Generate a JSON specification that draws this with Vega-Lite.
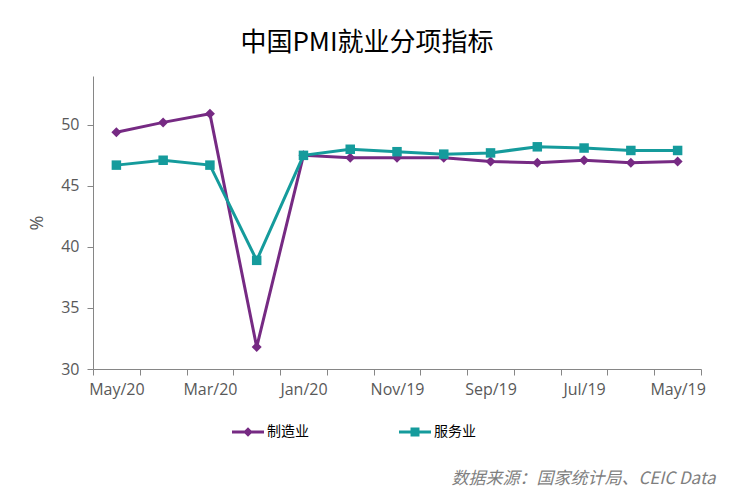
{
  "$schema": "https://vega.github.io/schema/vega-lite/v6.json",
  "width": 608,
  "height": 293,
  "autosize": "none",
  "padding": {"left": 93, "top": 76, "right": 32, "bottom": 130},
  "background": "white",
  "title": {"text": "中国PMI就业分项指标", "font": "Noto Sans CJK SC", "fontSize": 26, "fontWeight": "normal", "color": "#000000", "anchor": "middle", "dx": -30, "offset": 20},
  "data": {"values": [
    {"month": "May/20", "series": "制造业", "value": 49.4},
    {"month": "Apr/20", "series": "制造业", "value": 50.2},
    {"month": "Mar/20", "series": "制造业", "value": 50.9},
    {"month": "Feb/20", "series": "制造业", "value": 31.8},
    {"month": "Jan/20", "series": "制造业", "value": 47.5},
    {"month": "Dec/19", "series": "制造业", "value": 47.3},
    {"month": "Nov/19", "series": "制造业", "value": 47.3},
    {"month": "Oct/19", "series": "制造业", "value": 47.3},
    {"month": "Sep/19", "series": "制造业", "value": 47.0},
    {"month": "Aug/19", "series": "制造业", "value": 46.9},
    {"month": "Jul/19", "series": "制造业", "value": 47.1},
    {"month": "Jun/19", "series": "制造业", "value": 46.9},
    {"month": "May/19", "series": "制造业", "value": 47.0},
    {"month": "May/20", "series": "服务业", "value": 46.7},
    {"month": "Apr/20", "series": "服务业", "value": 47.1},
    {"month": "Mar/20", "series": "服务业", "value": 46.7},
    {"month": "Feb/20", "series": "服务业", "value": 38.9},
    {"month": "Jan/20", "series": "服务业", "value": 47.5},
    {"month": "Dec/19", "series": "服务业", "value": 48.0},
    {"month": "Nov/19", "series": "服务业", "value": 47.8},
    {"month": "Oct/19", "series": "服务业", "value": 47.6},
    {"month": "Sep/19", "series": "服务业", "value": 47.7},
    {"month": "Aug/19", "series": "服务业", "value": 48.2},
    {"month": "Jul/19", "series": "服务业", "value": 48.1},
    {"month": "Jun/19", "series": "服务业", "value": 47.9},
    {"month": "May/19", "series": "服务业", "value": 47.9}
  ]},
  "encoding": {
    "x": {
      "field": "month", "type": "ordinal", "sort": null, "bandPosition": 0.5,
      "scale": {"type": "band", "paddingInner": 0, "paddingOuter": 0},
      "axis": {
        "orient": "bottom",
        "tickBand": "extent",
        "labelExpr": "indexof(['May/20','Mar/20','Jan/20','Nov/19','Sep/19','Jul/19','May/19'], datum.value) >= 0 ? datum.label : ''",
        "labelAngle": 0, "labelOverlap": false, "grid": false,
        "domainColor": "#868686", "tickColor": "#868686", "tickSize": 6,
        "labelFont": "Open Sans", "labelFontSize": 16, "labelColor": "#595959", "labelPadding": 6,
        "title": "数据来源：国家统计局、CEIC Data",
        "titleFont": "Noto Sans CJK SC", "titleFontStyle": "italic", "titleFontWeight": "normal",
        "titleFontSize": 17, "titleColor": "#7F7F7F",
        "titleX": 622, "titleY": 109, "titleAlign": "right", "titleBaseline": "middle", "titleAngle": 0
      }
    },
    "y": {
      "field": "value", "type": "quantitative",
      "scale": {"domain": [30, 54], "nice": false, "zero": false},
      "axis": {
        "values": [30, 35, 40, 45, 50], "grid": false,
        "domainColor": "#868686", "tickColor": "#868686", "tickSize": 6,
        "labelFont": "Open Sans", "labelFontSize": 16, "labelColor": "#595959", "labelPadding": 8,
        "title": "%", "titleFont": "Open Sans", "titleFontSize": 18, "titleFontWeight": "normal",
        "titleColor": "#595959", "titlePadding": 14
      }
    },
    "color": {
      "field": "series", "type": "nominal", "sort": ["制造业", "服务业"],
      "scale": {"domain": ["制造业", "服务业"], "range": ["#762A83", "#159B9C"]},
      "legend": {
        "title": null, "orient": "none", "legendX": 139, "legendY": 340,
        "direction": "horizontal", "symbolSize": 1024, "symbolOpacity": 1,
        "labelFont": "Noto Sans CJK SC", "labelFontSize": 14, "labelColor": "#000000",
        "labelOffset": 3, "columnPadding": 90, "symbolStrokeWidth": 0
      }
    }
  },
  "layer": [
    {"mark": {"type": "line", "strokeWidth": 3}},
    {
      "transform": [{"filter": "datum.series === '制造业'"}],
      "mark": {"type": "point", "filled": true, "opacity": 1, "size": 100, "shape": "diamond"}
    },
    {
      "transform": [{"filter": "datum.series === '服务业'"}],
      "mark": {"type": "point", "filled": true, "opacity": 1, "size": 90, "shape": "square"}
    },
    {
      "mark": {"type": "point", "filled": true, "opacity": 0, "size": 1024},
      "encoding": {
        "shape": {
          "field": "series", "type": "nominal", "sort": ["制造业", "服务业"],
          "scale": {"domain": ["制造业", "服务业"], "range": ["M-1,-0.09H1V0.09H-1Z M0,-0.3L0.3,0L0,0.3L-0.3,0Z", "M-1,-0.09H1V0.09H-1Z M-0.28,-0.28H0.28V0.28H-0.28Z"]},
          "legend": {
            "title": null, "orient": "none", "legendX": 139, "legendY": 340,
            "direction": "horizontal", "symbolSize": 1024, "symbolOpacity": 1,
            "labelFont": "Noto Sans CJK SC", "labelFontSize": 14, "labelColor": "#000000",
            "labelOffset": 3, "columnPadding": 90, "symbolStrokeWidth": 0
          }
        }
      }
    }
  ],
  "config": {"view": {"stroke": null}}
}
